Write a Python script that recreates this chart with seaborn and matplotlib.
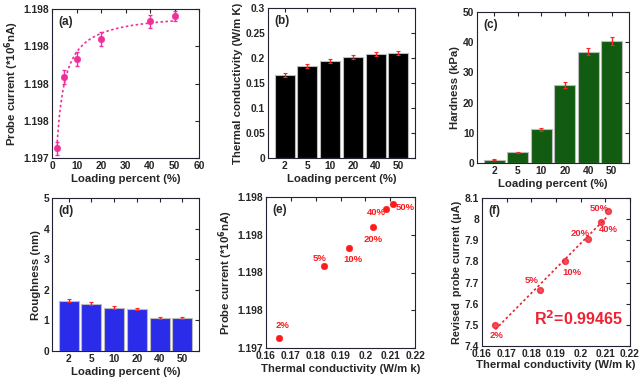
import matplotlib.pyplot as plt
import numpy as np
import pandas as pd
import seaborn as sns

# data
loading = [2, 5, 10, 20, 40, 50]
loading_labels = ["2", "5", "10", "20", "40", "50"]
probe_current = [1.197426, 1.197617, 1.197666, 1.197720, 1.197767, 1.197781]
probe_err = [0.000018, 0.000018, 0.000018, 0.000018, 0.000018, 0.000013]
thermal = [0.1654, 0.1835, 0.1935, 0.2029, 0.2083, 0.2110]
thermal_err = [0.004, 0.004, 0.004, 0.004, 0.004, 0.004]
hardness = [1.1, 3.6, 11.1, 25.7, 36.8, 40.4]
hardness_err = [0.2, 0.2, 0.6, 1.0, 1.2, 1.3]
roughness = [1.64, 1.54, 1.42, 1.37, 1.09, 1.08]
roughness_err = [0.05, 0.05, 0.04, 0.04, 0.03, 0.03]
revised_current = [7.500, 7.665, 7.800, 7.905, 7.985, 8.040]
pct_labels = ["2%", "5%", "10%", "20%", "40%", "50%"]
probe_ticks = [1.1974, 1.1975, 1.1976, 1.1977, 1.1978]
probe_tick_labels = ["1.197", "1.198", "1.198", "1.198", "1.198"]
cond_ticks = [0.16, 0.17, 0.18, 0.19, 0.20, 0.21, 0.22]
cond_tick_labels = ["0.16", "0.17", "0.18", "0.19", "0.2", "0.21", "0.22"]

# label positions for (e) and (f), in data units
e_label_x = [0.1667, 0.1817, 0.1949, 0.2032, 0.2046, 0.2160]
e_label_y = [1.197459, 1.197637, 1.197634, 1.197687, 1.197760, 1.197772]
f_label_x = [0.1661, 0.1802, 0.1964, 0.1998, 0.2112, 0.2075]
f_label_y = [7.449, 7.711, 7.746, 7.932, 7.952, 8.050]

df = pd.DataFrame({"loading": loading_labels, "x": loading, "probe": probe_current,
                   "thermal": thermal, "hardness": hardness, "roughness": roughness,
                   "revised": revised_current})

sns.set_style("white")
plt.rcParams["font.family"] = ["Liberation Sans", "DejaVu Sans"]
plt.rcParams["font.weight"] = "bold"
plt.rcParams["axes.labelweight"] = "bold"
plt.rcParams["mathtext.default"] = "bf"

fig = plt.figure(figsize=(6.42, 3.81), dpi=100)
W, H = 642, 381
LABEL_FS = 8.2
TICK_FS = 7.4


def make_ax(l, r, t, b):
    return fig.add_axes([l / W, 1 - b / H, (r - l) / W, (b - t) / H])


def style(ax, label):
    for s in ax.spines.values():
        s.set_color("#222233")
        s.set_linewidth(0.8)
    ax.tick_params(direction="in", top=True, right=True, length=3, width=0.8,
                   labelsize=TICK_FS, pad=2)
    for t in ax.get_xticklabels() + ax.get_yticklabels():
        t.set_fontweight("bold")
    ax.text(0.04, 0.955, label, transform=ax.transAxes, ha="left", va="top",
            fontsize=8.5, fontweight="bold")


def bar_panel(ax, col, err, color, ylim, yticks, ylabel, label):
    sns.barplot(data=df, x="loading", y=col, color=color, width=0.88,
                edgecolor="#bbbbbb", linewidth=0.8, saturation=1, ax=ax)
    ax.errorbar(np.arange(len(loading)), df[col], yerr=err, fmt="none",
                ecolor="#ff2222", elinewidth=1, capsize=1.5, capthick=0.8)
    ax.set_ylim(*ylim)
    ax.set_yticks(yticks)
    ax.set_xlabel("Loading percent (%)", fontsize=LABEL_FS, labelpad=2)
    ax.set_ylabel(ylabel, fontsize=LABEL_FS, labelpad=2)
    style(ax, label)


# (a) probe current vs loading
ax = make_ax(52, 199, 9, 158)
xx = np.array(loading, dtype=float)
yy = np.array(probe_current)
best = None
for c in np.linspace(-1.5, 20, 400):
    A = np.vstack([np.ones_like(xx), 1 / (xx + c)]).T
    coef, *_ = np.linalg.lstsq(A, yy, rcond=None)
    r = np.sum((A @ coef - yy) ** 2)
    if best is None or r < best[0]:
        best = (r, c, coef)
_, c, coef = best
xf = np.linspace(min(loading), max(loading), 200)
sns.lineplot(x=xf, y=coef[0] + coef[1] / (xf + c), color="#f0309a",
             linestyle=(0, (1.5, 1.5)), linewidth=1.2, ax=ax)
ax.errorbar(loading, probe_current, yerr=probe_err, fmt="none", ecolor="#f0309a",
            elinewidth=1, capsize=1.5)
sns.scatterplot(x=loading, y=probe_current, color="#f0309a", s=22, marker="o",
                edgecolor="#f0309a", ax=ax, zorder=3)
ax.set_xlim(0, 60)
ax.set_xticks(range(0, 61, 10))
ax.set_ylim(probe_ticks[0], probe_ticks[-1])
ax.set_yticks(probe_ticks)
ax.set_yticklabels(probe_tick_labels)
ax.set_xlabel("Loading percent (%)", fontsize=LABEL_FS, labelpad=2)
ax.set_ylabel("Probe current (*10$^{6}$nA)", fontsize=LABEL_FS, labelpad=2)
style(ax, "(a)")

# (b) thermal conductivity
ax = make_ax(268, 415, 8, 158)
ax.set_yticks(np.arange(0, 0.31, 0.05))
bar_panel(ax, "thermal", thermal_err, "black", (0, 0.3), np.arange(0, 0.31, 0.05),
          "Thermal conductivity (W/m K)", "(b)")
ax.set_yticklabels(["0", "0.05", "0.1", "0.15", "0.2", "0.25", "0.3"],
                   fontweight="bold", fontsize=TICK_FS)

# (c) hardness
ax = make_ax(477, 629, 12, 163)
bar_panel(ax, "hardness", hardness_err, "#125c12", (0, 50), range(0, 51, 10),
          "Hardness (kPa)", "(c)")

# (d) roughness
ax = make_ax(52, 199, 198, 351)
bar_panel(ax, "roughness", roughness_err, "#2b2bea", (0, 5), range(0, 6),
          "Roughness (nm)", "(d)")

# (e) probe current vs thermal conductivity
ax = make_ax(266, 415, 197, 348)
sns.scatterplot(data=df, x="thermal", y="probe", color="#ff1a1a", s=22,
                edgecolor="#ff1a1a", ax=ax)
for x, y, t in zip(e_label_x, e_label_y, pct_labels):
    ax.text(x, y, t, color="#ff1a1a", fontsize=6.8, fontweight="bold",
            ha="center", va="center")
ax.set_xlim(0.16, 0.22)
ax.set_xticks(cond_ticks)
ax.set_xticklabels(cond_tick_labels)
ax.set_ylim(probe_ticks[0], probe_ticks[-1])
ax.set_yticks(probe_ticks)
ax.set_yticklabels(probe_tick_labels)
ax.set_xlabel("Thermal conductivity (W/m k)", fontsize=LABEL_FS, labelpad=2)
ax.set_ylabel("Probe current (*10$^{6}$nA)", fontsize=LABEL_FS, labelpad=2)
style(ax, "(e)")

# (f) revised probe current vs thermal conductivity
ax = make_ax(482, 630, 198, 346)
sns.regplot(data=df, x="thermal", y="revised", ci=None, color="#ee2233", ax=ax,
            scatter_kws={"s": 18},
            line_kws={"linestyle": (0, (1.5, 1.5)), "linewidth": 1.2})
for x, y, t in zip(f_label_x, f_label_y, pct_labels):
    ax.text(x, y, t, color="#ee2233", fontsize=6.8, fontweight="bold",
            ha="center", va="center")
ax.text(0.199, 7.53, "R$^{2}$=0.99465", color="#ee2233", fontsize=11.5,
        fontweight="bold", ha="center", va="center")
ax.set_xlim(0.16, 0.22)
ax.set_xticks(cond_ticks)
ax.set_xticklabels(cond_tick_labels)
ax.set_ylim(7.4, 8.1)
ax.set_yticks(np.arange(7.4, 8.11, 0.1))
ax.set_yticklabels(["7.4", "7.5", "7.6", "7.7", "7.8", "7.9", "8", "8.1"])
ax.set_xlabel("Thermal conductivity (W/m k)", fontsize=LABEL_FS, labelpad=1)
ax.set_ylabel("Revised  probe current (\u03bcA)", fontsize=7.8, labelpad=2)
style(ax, "(f)")

fig.savefig("out.png", dpi=100)
